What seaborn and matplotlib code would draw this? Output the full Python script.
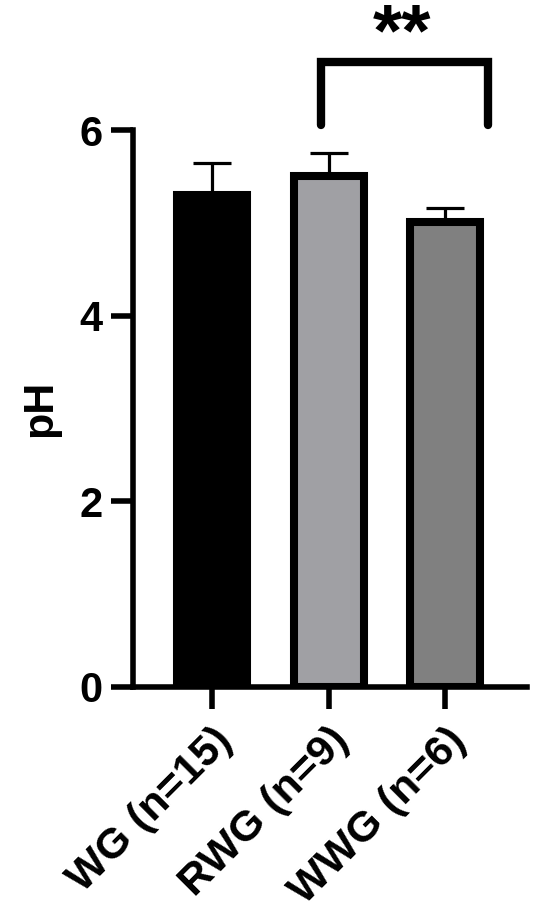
import numpy as np
import pandas as pd
import matplotlib
matplotlib.use("Agg")
import matplotlib.pyplot as plt
import seaborn as sb

groups = ["WG (n=15)", "RWG (n=9)", "WWG (n=6)"]
means = [5.30, 5.51, 5.01]
errs = [0.35, 0.24, 0.15]
colors = ["#000000", "#a0a0a4", "#808080"]

sb.set_style("ticks", {"axes.edgecolor": "black", "xtick.color": "black",
                       "ytick.color": "black", "text.color": "black",
                       "axes.labelcolor": "black"})
plt.rcParams["font.family"] = ["Liberation Sans", "DejaVu Sans"]
plt.rcParams["font.weight"] = "bold"

df = pd.DataFrame({"group": groups, "pH": means})

fig = plt.figure(figsize=(5.5, 9.23), dpi=100)
ax = fig.add_axes([0.242, 0.2557, 0.716, 0.6033])

sb.barplot(data=df, x="group", y="pH", hue="group", palette=colors, legend=False,
           edgecolor="black", linewidth=5.8, width=0.6, errorbar=None, ax=ax, zorder=3)
ax.errorbar(np.arange(len(groups)), means, yerr=[np.zeros(len(errs)), errs],
            fmt="none", ecolor="black", elinewidth=2.3, capsize=14, capthick=2.3, zorder=2)

ax.set_ylim(0, 6)
ax.set_xlim(-0.68, 2.70)
ax.set_yticks([0, 2, 4, 6])
for s in ["top", "right"]:
    ax.spines[s].set_visible(False)
for s in ["left", "bottom"]:
    ax.spines[s].set_linewidth(4)
ax.tick_params(axis="both", width=4, length=16, labelsize=30, pad=6, colors="black")
ax.tick_params(axis="x", labelsize=31, pad=8)
ax.set_xlabel("")
ax.set_ylabel("pH", fontsize=31, fontweight="bold", labelpad=14, color="black")
plt.setp(ax.get_xticklabels(), rotation=45, ha="right", rotation_mode="anchor", fontweight="bold")
plt.setp(ax.get_yticklabels(), fontweight="bold")

# significance bracket between RWG and WWG
ax.plot([0.93, 0.93, 2.37, 2.37], [6.06, 6.73, 6.73, 6.06], color="black", lw=6,
        solid_joinstyle="miter", clip_on=False)
ax.text(1.63, 7.02, "**", ha="center", va="center", fontsize=54, fontweight="bold", color="black")

fig.savefig("out.png", dpi=100)
